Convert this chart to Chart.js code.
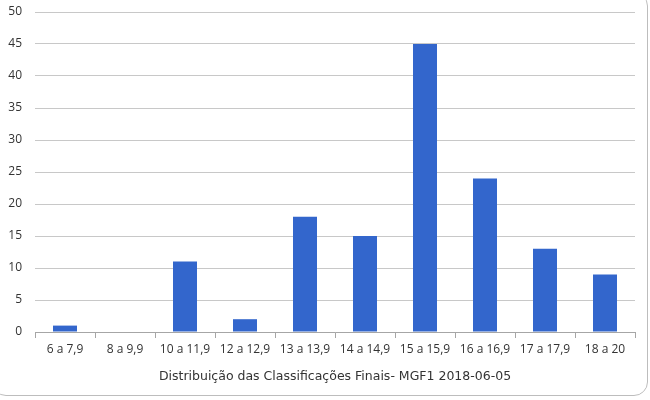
<!DOCTYPE html>
<html><head><meta charset="utf-8">
<script src="https://cdn.jsdelivr.net/npm/chart.js@4.4.1/dist/chart.umd.min.js"></script>
<style>
html,body{margin:0;padding:0;background:#fff;}
#wrap{position:absolute;left:0;top:0;width:650px;height:400px;}
#frame{position:absolute;left:-8px;top:-8px;width:656px;height:404px;border:1px solid #bdbdbd;border-radius:14px;box-sizing:border-box;pointer-events:none;}
canvas{position:absolute;left:0;top:0;}
</style></head><body>
<div id="wrap"><canvas id="c" width="650" height="400"></canvas><div id="frame"></div></div>
<script>
const categories = ["6 a 7,9","8 a 9,9","10 a 11,9","12 a 12,9","13 a 13,9","14 a 14,9","15 a 15,9","16 a 16,9","17 a 17,9","18 a 20"];
const values = [1,0,11,2,18,15,45,24,13,9];
const yTicks = [0,5,10,15,20,25,30,35,40,45,50];
const titleText = "Distribuição das Classificações Finais- MGF1 2018-06-05";

const font = {family:"'Open Sans', sans-serif", size:12};
const tfont = {family:"'DejaVu Sans', sans-serif", size:12.5};
new Chart(document.getElementById('c'), {
  type:'bar',
  data:{labels:categories, datasets:[{data:values, backgroundColor:'#3366cc', barPercentage:0.4, categoryPercentage:1.0}]},
  options:{
    responsive:false, animation:false,
    layout:{padding:{left:0,right:15,top:12,bottom:16}},
    plugins:{legend:{display:false}, tooltip:{enabled:false}},
    scales:{
      x:{
        grid:{offset:true, drawOnChartArea:false, color:'#a6a6a6', tickLength:6, tickWidth:1},
        border:{color:'#a6a6a6', width:1},
        ticks:{color:'#333333', font:font, padding:4, maxRotation:0, autoSkip:false},
        title:{display:true, text:titleText, color:'#333333', font:tfont, padding:{top:2,bottom:0}},
        afterFit:(s)=>{s.height=52; s.paddingTop=0; s.paddingBottom=0;}
      },
      y:{
        min:0, max:50,
        afterBuildTicks:(s)=>{s.ticks=yTicks.map(v=>({value:v}));},
        grid:{color:'#c8c8c8', tickLength:0, drawTicks:false},
        border:{display:false},
        ticks:{color:'#333333', font:font, padding:13},
        afterFit:(s)=>{s.width=35; s.paddingTop=0; s.paddingBottom=0;}
      }
    }
  }
});
</script>
</body></html>
